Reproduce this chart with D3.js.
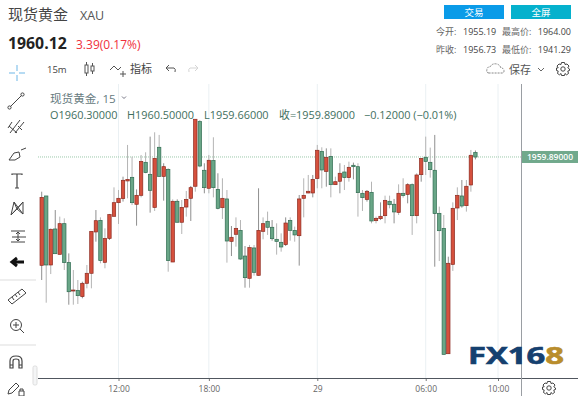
<!DOCTYPE html>
<html>
<head>
<meta charset="utf-8">
<script src="https://cdn.jsdelivr.net/npm/d3@7"></script>
<style>
html, body { margin: 0; padding: 0; background: #fff; overflow: hidden; }
svg { display: block; }
text { font-family: "Open Sans", "Noto Sans CJK SC", sans-serif; }
</style>
</head>
<body>
<svg id="chart" width="578" height="396"></svg>
<script>
// 15 minute candles
const opens = [
  1949.72,1956.23,1949.75,1953.13,1950.75,1953.63,1949.97,1947.34,1947.37,1946.78,
  1948.03,1948.97,1952.85,1953.94,1950.00,1952.25,1954.32,1955.60,1955.98,1957.64,
  1957.98,1955.45,1956.29,1959.39,1958.26,1955.16,1960.80,1958.07,1958.73,1950.03,
  1955.73,1953.76,1955.19,1956.01,1957.14,1963.21,1958.64,1956.95,1959.55,1956.85,
  1955.13,1955.95,1951.97,1952.63,1953.00,1950.59,1948.50,1951.35,1948.78,1952.91,
  1953.85,1953.29,1952.16,1951.88,1951.66,1953.94,1953.00,1952.50,1956.01,1956.51,
  1956.51,1957.86,1960.42,1958.54,1959.95,1957.29,1957.61,1958.48,1957.95,1959.11,
  1958.98,1956.48,1955.91,1956.57,1953.91,1954.10,1954.38,1955.73,1955.45,1954.69,
  1956.48,1956.38,1957.29,1954.38,1958.23,1959.86,1959.39,1958.64,1954.60,1953.19,
  1941.42,1949.81,1955.10,1956.23,1955.32,1957.26,1960.30
];
const highs = [
  1956.63,1956.23,1953.19,1954.91,1954.29,1954.13,1950.84,1949.28,1948.34,1948.18,
  1949.75,1952.91,1954.91,1954.22,1953.19,1954.54,1957.04,1956.79,1958.04,1961.02,
  1959.92,1956.85,1960.08,1960.33,1961.80,1962.21,1961.96,1959.30,1958.83,1955.91,
  1955.91,1955.85,1956.70,1957.17,1963.43,1963.36,1959.30,1960.08,1961.74,1958.36,
  1957.89,1956.79,1953.41,1954.22,1953.97,1951.53,1951.63,1951.63,1956.95,1954.22,
  1954.76,1953.97,1953.66,1952.72,1954.22,1954.22,1953.35,1956.32,1957.89,1958.20,
  1958.20,1961.02,1960.80,1960.70,1960.70,1958.04,1959.30,1959.14,1959.45,1959.36,
  1959.30,1956.79,1956.79,1957.57,1954.29,1955.63,1956.26,1956.26,1955.95,1957.32,
  1957.89,1957.42,1957.42,1958.36,1959.76,1961.80,1960.77,1961.96,1955.23,1954.44,
  1950.53,1955.63,1957.04,1957.73,1957.73,1960.55,1960.50
];
const lows = [
  1948.34,1946.21,1948.90,1950.81,1950.75,1949.28,1946.02,1946.02,1946.09,1946.62,
  1947.56,1947.56,1951.94,1949.91,1949.44,1952.10,1954.29,1953.60,1955.70,1956.01,
  1955.38,1953.44,1956.10,1958.36,1954.66,1954.82,1958.04,1955.79,1949.12,1950.03,
  1953.76,1952.66,1954.29,1953.88,1956.63,1958.92,1956.48,1956.48,1956.10,1954.98,
  1954.07,1949.97,1950.59,1951.47,1950.22,1947.62,1947.62,1948.75,1948.75,1952.16,
  1952.57,1952.03,1950.72,1951.00,1951.53,1952.03,1951.94,1949.69,1954.22,1956.48,
  1956.10,1956.95,1956.95,1957.10,1956.10,1957.26,1956.48,1956.79,1957.57,1957.79,
  1954.29,1954.82,1955.70,1953.66,1953.66,1953.97,1953.66,1955.07,1953.66,1954.44,
  1956.07,1955.54,1952.57,1953.66,1957.57,1958.20,1957.95,1949.59,1950.12,1941.36,
  1941.42,1949.19,1953.97,1955.13,1954.76,1956.63,1959.66
];
const closes = [
  1956.10,1949.75,1953.10,1950.81,1953.63,1949.97,1947.24,1947.40,1946.87,1948.03,
  1948.97,1952.91,1953.91,1950.16,1952.25,1954.48,1955.60,1956.01,1957.70,1957.79,
  1955.60,1956.29,1959.48,1958.42,1956.76,1959.76,1958.07,1958.98,1950.16,1955.73,
  1953.76,1955.16,1955.91,1957.01,1963.43,1959.04,1957.01,1959.58,1957.01,1955.07,
  1956.01,1952.00,1952.35,1953.19,1950.31,1948.56,1951.38,1949.06,1953.00,1953.63,
  1953.29,1952.22,1951.97,1951.44,1953.69,1953.00,1952.57,1955.95,1956.29,1956.67,
  1957.79,1960.52,1958.67,1959.86,1957.29,1957.57,1958.36,1957.95,1958.92,1958.98,
  1956.54,1956.07,1956.67,1953.88,1954.13,1954.32,1955.82,1955.41,1954.73,1956.48,
  1956.26,1957.29,1954.38,1958.20,1959.76,1959.48,1958.70,1954.57,1952.97,1941.36,
  1949.91,1955.07,1956.29,1955.29,1957.14,1960.05,1959.89
];
const timeTickSlots = [17, 37, 61, 85, 101];
const timeTickLabels = ["12:00", "18:00", "29", "06:00", "10:00"];
const dayHigh = 1964.00;
const dayLow = 1941.29;
const lastPrice = 1959.89;

const upFill = "#d5503d", upLine = "#8c2a1f";
const downFill = "#69a687", downLine = "#2f6b50";

const svg = d3.select("#chart");

const x = d3.scaleLinear().domain([0, 101]).range([41.7, 498]);
const y = d3.scaleLinear().domain([dayLow, dayHigh]).range([355.1, 113.2]);

// grid
svg.append("g").selectAll("line")
    .data(timeTickSlots)
    .join("line")
    .attr("x1", d => x(d)).attr("x2", d => x(d))
    .attr("y1", 84).attr("y2", 378)
    .attr("stroke", "#eaf0f3");

// last price dotted line
svg.append("line")
    .attr("x1", 38).attr("x2", 521)
    .attr("y1", y(lastPrice)).attr("y2", y(lastPrice))
    .attr("stroke", "#9cc8ab")
    .attr("stroke-dasharray", "1 1");

// candles
const candles = svg.append("g").selectAll("g")
    .data(d3.range(opens.length))
    .join("g");

candles.append("line")
    .attr("x1", i => x(i)).attr("x2", i => x(i))
    .attr("y1", i => y(highs[i])).attr("y2", i => y(lows[i]))
    .attr("stroke", i => i % 3 === 0 ? "#8f8f8f" : "#b4b4b4");

candles.append("rect")
    .attr("x", i => x(i) - 1.7)
    .attr("width", 3.4)
    .attr("y", i => y(Math.max(opens[i], closes[i])))
    .attr("height", i => Math.max(1, Math.abs(y(opens[i]) - y(closes[i]))))
    .attr("fill", i => closes[i] >= opens[i] ? upFill : downFill)
    .attr("stroke", i => closes[i] >= opens[i] ? upLine : downLine)
    .attr("stroke-width", 0.7);

// axes frame
const xAxis = d3.axisBottom(x)
    .tickValues(timeTickSlots)
    .tickFormat((d, i) => timeTickLabels[i])
    .tickSize(3)
    .tickPadding(5);
const xAxisG = svg.append("g").attr("transform", "translate(0,378)").call(xAxis);
xAxisG.select(".domain").remove();
xAxisG.selectAll("line").attr("stroke", "#777");
xAxisG.selectAll("text").attr("font-size", 8.5).attr("fill", "#666").attr("font-family", "Open Sans");

svg.append("line").attr("x1", 38).attr("x2", 578).attr("y1", 378.5).attr("y2", 378.5).attr("stroke", "#50565e");
svg.append("line").attr("x1", 521.5).attr("x2", 521.5).attr("y1", 84).attr("y2", 396).attr("stroke", "#9a9ea3");

// last price tag
svg.append("rect").attr("x", 522).attr("y", y(lastPrice) - 6).attr("width", 56).attr("height", 12).attr("fill", "#71a98c");
svg.append("text").attr("x", 550).attr("y", y(lastPrice) + 3)
    .attr("text-anchor", "middle").attr("font-size", 8.5).attr("font-weight", 600).attr("fill", "#fff")
    .text(lastPrice.toFixed(5));

// header
function label(px, py, str, size, fill, extra) {
    const t = svg.append("text").attr("x", px).attr("y", py).attr("font-size", size).attr("fill", fill).text(str);
    if (extra) extra(t);
    return t;
}
label(8, 20, "现货黄金", 15, "#444");
label(80, 20, "XAU", 12.5, "#555");
label(8, 49, "1960.12", 15.8, "#222", t => t.attr("font-weight", 700));
label(76, 49, "3.39(0.17%)", 12, "#f0303c");

svg.append("rect").attr("x", 444).attr("y", 5).attr("width", 60).attr("height", 14).attr("fill", "#0a9be8");
svg.append("rect").attr("x", 511).attr("y", 5).attr("width", 60).attr("height", 14).attr("fill", "#05b1cd");
label(474, 16, "交易", 9.5, "#fff", t => t.attr("text-anchor", "middle"));
label(541, 16, "全屏", 9.5, "#fff", t => t.attr("text-anchor", "middle"));

label(436, 35, "今开:", 9, "#666");
label(463, 35, "1955.19", 9, "#444");
label(502, 35, "最高价:", 9, "#666");
label(571, 35, "1964.00", 9, "#444", t => t.attr("text-anchor", "end"));
label(436, 53, "昨收:", 9, "#666");
label(463, 53, "1956.73", 9, "#444");
label(502, 53, "最低价:", 9, "#666");
label(571, 53, "1941.29", 9, "#444", t => t.attr("text-anchor", "end"));

// top toolbar
label(47, 73, "15m", 9.5, "#444");
label(130, 73, "指标", 11, "#444");
label(509, 74, "保存", 11, "#555");

const icon = (px, py, stroke, width) => svg.append("g")
    .attr("transform", `translate(${px},${py})`)
    .attr("fill", "none").attr("stroke", stroke || "#555").attr("stroke-width", width || 1);

// candle icon
icon(88, 69).call(g => {
    g.append("rect").attr("x", -3).attr("y", -4).attr("width", 3).attr("height", 8);
    g.append("rect").attr("x", 3).attr("y", -3).attr("width", 3).attr("height", 5);
    g.append("path").attr("d", "M-1.5-7V-4M-1.5 4V7M4.5-6V-3M4.5 2V5");
});
icon(118, 69).append("path").attr("d", "M-8 1L-4-3L0 1L3-2M5 2V8M2 5H8");
icon(171, 69).append("path").attr("d", "M-5-1H3Q5 0 4 3M-5-1L-2-4M-5-1L-2 2");
icon(193, 69, "#d5d5d5").append("path").attr("d", "M5-1H-3Q-5 0-4 3M5-1L2-4M5-1L2 2");
icon(497, 69, "#888").append("path").attr("d", "M-8 4Q-11 4-10 0Q-10-2-7-2Q-5-6 0-5Q3-4 4-1Q7-1 7 2Q7 4 5 4Z").attr("stroke-dasharray", "2 1");
icon(541, 69, "#666").append("path").attr("d", "M-3-1L0 2L3-1");
const gear = (px, py) => {
    const g = icon(px, py, "#444");
    g.append("circle").attr("r", 2.2);
    g.append("path").attr("d", "M-1.5-6.5H1.5L2-4.5L4-5L6-3L4.8-1.2L6.5 0L6.5 1.5L4.8 2L5.5 4.5L3.5 5.8L2 4.5L1.5 6.5H-1.5L-2 4.5L-3.5 5.8L-5.5 4.5L-4.8 2L-6.5 1.5V-1L-4.8-1.2L-6-3L-4-5L-2-4.5Z");
};
gear(563, 69);
gear(549, 388);

// left toolbar
icon(17, 73, "#9fd0f0", 1.5).append("path").attr("d", "M-8 0H-2M2 0H8M0-8V-2M0 2V8");
icon(16, 101, "#444").call(g => {
    g.append("path").attr("d", "M-6 6L6-6");
    g.append("circle").attr("cx", -6.5).attr("cy", 6.5).attr("r", 1.6).attr("fill", "#fff");
    g.append("circle").attr("cx", 6.5).attr("cy", -6.5).attr("r", 1.6).attr("fill", "#fff");
});
icon(16, 127, "#444").append("path").attr("d", "M-6 6L4-7M-1 6L8-5M-7-1L1 6M-8 1L-4-5M2-1L6 3");
icon(18, 155, "#444").append("path").attr("d", "M-9 5L-4-2L1-3L2 2L-3 5ZM3-5L8-7");
icon(17, 181, "#444", 1.2).append("path").attr("d", "M-5-6V-7H5V-6M0-7V7M-2 7H2");
icon(17, 208, "#444").append("path").attr("d", "M-6 7L-3-6L6 6L6-6L-6 7M-3-6L0 1L6-6M-6 7L0 1L6 6");
icon(17, 236, "#444").append("path").attr("d", "M-6-5H8M-6 6H8M-5 1H9M1-4V5M-1-2L1-4L3-2M-1 3L1 5L3 3");
icon(17, 262, "#111", 3).append("path").attr("d", "M7 0H-4M0-4L-5 0L0 4");
svg.append("line").attr("x1", 0).attr("x2", 36).attr("y1", 280).attr("y2", 280).attr("stroke", "#ddd");
icon(17, 297, "#444").append("path").attr("d", "M-9 3L5-8L9-4L-5 7ZM-5 0L-3 3M-2-3L0 0M1-5L3-2");
icon(16, 325, "#444").call(g => {
    g.append("circle").attr("r", 5.5);
    g.append("path").attr("d", "M-3 0H3M0-3V3M4 4L8 8");
});
svg.append("line").attr("x1", 0).attr("x2", 36).attr("y1", 345).attr("y2", 345).attr("stroke", "#ddd");
icon(16, 362, "#444", 1.2).append("path").attr("d", "M-6 6V-1Q-6-6 0-6Q6-6 6-1V6H3V-1Q3-3 0-3Q-3-3-3-1V6ZM-6 3H-3M3 3H6");
icon(14, 388, "#444").append("path").attr("d", "M-6 6L-5 2L2-5L5-2L-2 5ZM5 3H10V8H5ZM6 3V1H9V3");
svg.append("rect").attr("x", 33).attr("y", 366).attr("width", 4).attr("height", 19).attr("rx", 1.5).attr("fill", "#f4f5f6").attr("stroke", "#ddd");

// chart legend
label(50, 103, "现货黄金, 15", 11.6, "#667a80");
icon(124, 97.5, "#667", 0.9).append("path").attr("d", "M-2-1L0 1L2-1");
const legendFill = "#3f6f5e";
label(50, 118.5, "O1960.30000", 10.9, legendFill);
label(127, 118.5, "H1960.50000", 10.9, legendFill);
label(204, 118.5, "L1959.66000", 10.9, legendFill);
label(279, 118.5, "收=1959.89000", 10.9, legendFill);
label(364, 118.5, "−0.12000 (−0.01%)", 10.9, legendFill);

// logo
const logo = svg.append("text").attr("x", 468).attr("y", 364).attr("font-size", 23).attr("font-weight", 700)
    .attr("font-family", "DejaVu Sans").attr("textLength", 96).attr("lengthAdjust", "spacingAndGlyphs");
logo.append("tspan").attr("fill", "#15406f").attr("stroke", "#15406f").attr("stroke-width", 0.6).text("FX16");
logo.append("tspan").attr("fill", "#b98d2c").attr("stroke", "#b98d2c").attr("stroke-width", 0.6).text("8");
</script>
</body>
</html>
